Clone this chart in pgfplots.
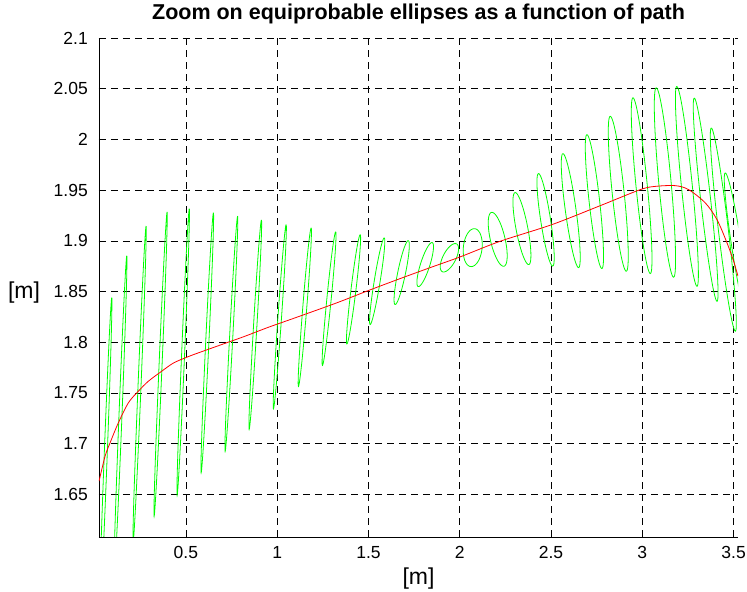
\documentclass[border=0pt]{standalone}
\usepackage{fontspec}
\setmainfont{Liberation Sans}
\usepackage{pgfplots}
\pgfplotsset{compat=1.18}
\definecolor{ellc}{RGB}{0,255,0}
\definecolor{pathc}{RGB}{255,0,0}
% ellipse from read parameters: centre (cx,cy), top-point offset (ux,uy), horizontal half-chord vx
\newcommand{\ellip}[5]{\addplot[ellc, line width=0.8bp, domain=0:360, samples=61] ({#1+(#3)*cos(x)+(#5)*sin(x)},{#2+(#4)*cos(x)});}
\begin{document}
\begin{tikzpicture}
\begin{axis}[
  at={(0,0)}, anchor=south west,
  scale only axis, width=639bp, height=499bp,
  xmin=0.024, xmax=3.524, ymin=1.608, ymax=2.1,
  axis x line*=bottom, axis y line*=left,
  axis line style={-, black, line width=0.8bp},
  xtick={0.5,1,1.5,2,2.5,3,3.5},
  ytick={1.65,1.7,1.75,1.8,1.85,1.9,1.95,2,2.05,2.1},
  tick align=inside, major tick length=5bp,
  tick style={black, line width=0.6bp},
  grid=major,
  major grid style={black, dash pattern=on 7bp off 5bp, line width=0.6bp},
  /pgf/number format/assume math mode=true,
  tick label style={font=\fontsize{17.5bp}{20bp}\selectfont},
  xticklabel style={anchor=north, inner sep=0pt, yshift=-9bp},
  yticklabel style={anchor=east, inner sep=0pt, xshift=-11bp},
  title={Zoom on equiprobable ellipses as a function of path},
  title style={font=\bfseries\fontsize{21.5bp}{24bp}\selectfont, at={(axis description cs:0.5,1)}, anchor=base, yshift=13bp, inner sep=0pt},
  xlabel={[m]},
  xlabel style={font=\fontsize{23bp}{26bp}\selectfont, at={(axis description cs:0.5,0)}, anchor=center, yshift=-42bp, inner sep=0pt},
  ylabel={[m]},
  ylabel style={font=\fontsize{23bp}{26bp}\selectfont, rotate=-90, at={(axis description cs:-0.092,0.49)}, anchor=east, inner sep=0pt},
]
\ellip{0.0605}{1.6874}{0.0334}{0.1567}{0.0082}
\ellip{0.1414}{1.7268}{0.0348}{0.1586}{0.0082}
\ellip{0.2463}{1.7584}{0.0356}{0.1562}{0.0082}
\ellip{0.3614}{1.7784}{0.0356}{0.1501}{0.0082}
\ellip{0.4852}{1.7904}{0.0334}{0.1414}{0.0082}
\ellip{0.6170}{1.7995}{0.0337}{0.1283}{0.0088}
\ellip{0.7490}{1.8084}{0.0342}{0.1160}{0.0088}
\ellip{0.8800}{1.8173}{0.0337}{0.1033}{0.0093}
\ellip{1.0142}{1.8252}{0.0348}{0.0908}{0.0099}
\ellip{1.1512}{1.8346}{0.0348}{0.0782}{0.0110}
\ellip{1.2841}{1.8430}{0.0362}{0.0659}{0.0120}
\ellip{1.4181}{1.8522}{0.0364}{0.0539}{0.0137}
\ellip{1.5477}{1.8602}{0.0384}{0.0427}{0.0164}
\ellip{1.6819}{1.8687}{0.0356}{0.0315}{0.0219}
\ellip{1.8107}{1.8766}{0.0367}{0.0217}{0.0268}
\ellip{1.9433}{1.8833}{0.0318}{0.0140}{0.0389}
\ellip{2.0710}{1.8933}{0.0082}{0.0187}{0.0515}
\ellip{2.2079}{1.9015}{-0.0318}{0.0266}{0.0411}
\ellip{2.3405}{1.9121}{-0.0367}{0.0355}{0.0329}
\ellip{2.4701}{1.9207}{-0.0386}{0.0456}{0.0274}
\ellip{2.6079}{1.9298}{-0.0427}{0.0562}{0.0296}
\ellip{2.7375}{1.9387}{-0.0408}{0.0660}{0.0290}
\ellip{2.8682}{1.9464}{-0.0438}{0.0764}{0.0329}
\ellip{2.9962}{1.9544}{-0.0474}{0.0867}{0.0312}
\ellip{3.1238}{1.9575}{-0.0474}{0.0934}{0.0340}
\ellip{3.2441}{1.9537}{-0.0553}{0.0985}{0.0301}
\ellip{3.3468}{1.9406}{-0.0622}{0.1002}{0.0274}
\ellip{3.4436}{1.9111}{-0.0658}{0.1002}{0.0274}
\ellip{3.5175}{1.8937}{-0.0630}{0.0733}{0.0274}
\addplot[pathc, line width=0.8bp, smooth, tension=0.5] coordinates {
(0.0244,1.6631) (0.0573,1.6877) (0.0847,1.7009) (0.1301,1.7206) (0.1849,1.7403)
(0.2397,1.7518) (0.2945,1.7616) (0.3679,1.7715) (0.4315,1.7795) (0.5011,1.7850)
(0.5597,1.7890) (0.6967,1.7978) (0.8244,1.8060) (0.9521,1.8148) (1.0984,1.8241)
(1.3268,1.8389) (1.5038,1.8513) (1.6737,1.8628) (1.8381,1.8736) (2.0025,1.8842)
(2.2216,1.8996) (2.5049,1.9160) (2.7696,1.9347) (2.9888,1.9505) (3.0710,1.9537)
(3.1806,1.9544) (3.2534,1.9505) (3.3449,1.9374) (3.4090,1.9209) (3.4638,1.8980)
(3.5000,1.8799) (3.5241,1.8651)
};
\end{axis}
\pgfresetboundingbox
\useasboundingbox (-99bp,-55bp) rectangle (648bp,537bp);
\end{tikzpicture}
\end{document}
